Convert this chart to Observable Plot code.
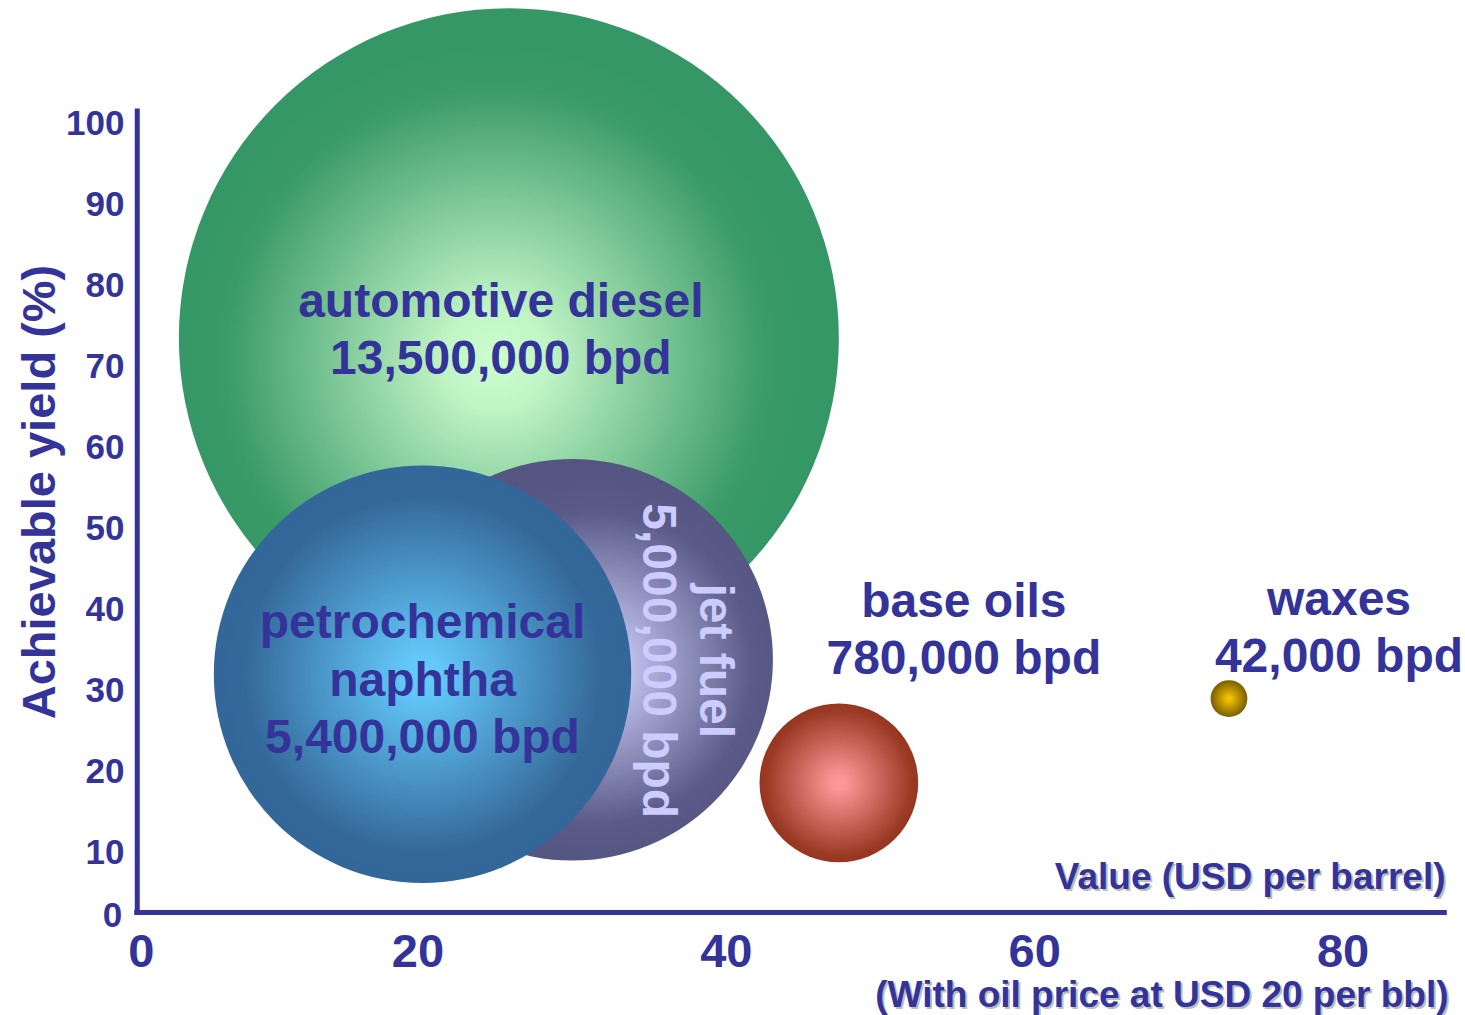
<!DOCTYPE html>
<html>
<head>
<meta charset="utf-8">
<script src="https://cdn.jsdelivr.net/npm/d3@7"></script>
<script src="https://cdn.jsdelivr.net/npm/@observablehq/plot@0.6"></script>
<style>
  html, body { margin: 0; padding: 0; background: #ffffff; }
</style>
</head>
<body>
<div id="chart"></div>
<script>
// Refinery products: market value vs. achievable yield; bubble area is proportional to volume.
// Listed in drawing order (back to front).
const products   = ["automotive diesel", "jet fuel", "petrochemical naphtha", "base oils", "waxes"];
const labelLines = ["automotive diesel", "jet fuel", "petrochemical\nnaphtha", "base oils", "waxes"];
const valueUSD   = [25.9, 30.0, 20.3, 47.3, 72.6];   // USD per barrel
const yieldPct   = [73.5, 33.8, 32.0, 18.6, 29.0];   // achievable yield, %
const volumeBpd  = [13500000, 5000000, 5400000, 780000, 42000];

const xTicks = [20, 40, 60, 80];
const yTicks = [10, 20, 30, 40, 50, 60, 70, 80, 90, 100];
const originTick = 0;

const yTitle = "Achievable yield (%)";
const xTitle = "Value (USD per barrel)";
const xNote  = "(With oil price at USD 20 per bbl)";

// ---- layout & style ----
const navy = "#333399";
const font = "'Liberation Sans', Arial, Helvetica, sans-serif";
const axisCorner = {x: 1.8, y: 2.6};     // where the drawn axis lines meet
const axisEnd = {x: 86.6, y: 101.5};     // far ends of the axis lines

const gradients = {
  "automotive diesel":     {cx: 0.48, cy: 0.53, stops: [[0, "#ccffcc"], [0.15, "#c2f5c6"], [0.82, "#3a9a68"], [1, "#359666"]]},
  "jet fuel":              {cx: 0.56, cy: 0.52, stops: [[0, "#d2d2ff"], [0.12, "#c6c6f2"], [0.78, "#5a5a88"], [1, "#555582"]]},
  "petrochemical naphtha": {cx: 0.5,  cy: 0.5,  stops: [[0, "#66ccff"], [0.1, "#62c6f8"], [0.85, "#35689a"], [1, "#336699"]]},
  "base oils":             {cx: 0.5,  cy: 0.5,  stops: [[0, "#ff9999"], [0.1, "#fb9494"], [0.92, "#9a3a24"], [1, "#983520"]]},
  "waxes":                 {cx: 0.5,  cy: 0.5,  stops: [[0, "#ffcc00"], [1, "#7a5e00"]]}
};

const labelStyle = {
  "automotive diesel":     {dx: -8,  dy: -11},
  "jet fuel":              {dx: 118, dy: 1, rotate: 90, fill: "#ccccff"},
  "petrochemical naphtha": {dx: 0,   dy: 3},
  "base oils":             {dx: 125, dy: -156},
  "waxes":                 {dx: 110, dy: -73}
};

const rows = products.map((p, i) => ({
  product: p,
  label: labelLines[i],
  value: valueUSD[i],
  yield: yieldPct[i],
  volume: volumeBpd[i]
}));

const gradId = p => "grad-" + p.replace(/\s+/g, "-");
const fmt = d3.format(",");

const bold = {fontWeight: "bold", fill: navy};

const chart = Plot.plot({
  width: 1465,
  height: 1015,
  marginLeft: 109,
  marginRight: 0,
  marginTop: 0,
  marginBottom: 82,
  x: {domain: [0, 87.94]},
  y: {domain: [0, 115.19]},
  r: {type: "sqrt", domain: [0, 13500000], range: [0, 330]},
  color: {type: "identity"},
  style: {fontFamily: font, background: "#ffffff", overflow: "visible"},
  marks: [
    // bubbles
    Plot.dot(rows, {
      x: "value", y: "yield", r: "volume",
      fill: d => `url(#${gradId(d.product)})`,
      stroke: "none",
      sort: null
    }),
    // bubble labels
    ...rows.map(d => Plot.text([d], {
      x: "value", y: "yield",
      text: r => `${r.label}\n${fmt(r.volume)} bpd`,
      fontSize: 48, lineHeight: 1.19, lineAnchor: "middle", textAnchor: "middle",
      ...bold,
      ...labelStyle[d.product]
    })),
    // axis lines
    Plot.ruleX([axisCorner.x], {y1: axisCorner.y, y2: axisEnd.y, stroke: navy, strokeWidth: 5, strokeLinecap: "square"}),
    Plot.ruleY([axisCorner.y], {x1: axisCorner.x, x2: axisEnd.x, stroke: navy, strokeWidth: 5, strokeLinecap: "square"}),
    // tick labels
    Plot.axisY({ticks: yTicks, tickSize: 0, tickPadding: 0, dx: 15, fontSize: 35, ...bold, label: null}),
    Plot.axisX({ticks: xTicks, tickSize: 0, tickPadding: 0, fontSize: 47, ...bold, label: null}),
    Plot.text([originTick], {x: () => axisCorner.x, y: () => axisCorner.y, text: d => String(d),
      textAnchor: "end", lineAnchor: "middle", dx: -15, dy: 3, fontSize: 35, ...bold}),
    Plot.text([originTick], {x: () => axisCorner.x, y: () => axisCorner.y, text: d => String(d),
      textAnchor: "middle", lineAnchor: "top", dx: 4, dy: 21, fontSize: 47, ...bold}),
    // axis titles
    Plot.text([yTitle], {frameAnchor: "left", text: d => d, rotate: -90, dx: -70, dy: 25,
      fontSize: 47, textAnchor: "middle", lineAnchor: "middle", ...bold}),
    Plot.text([xTitle], {frameAnchor: "bottom-right", text: d => d, textAnchor: "end", lineAnchor: "middle",
      dx: -18, dy: -54, fontSize: 37, fontWeight: "bold", fill: "#bdbdbd"}),
    Plot.text([xTitle], {frameAnchor: "bottom-right", text: d => d, textAnchor: "end", lineAnchor: "middle",
      dx: -20, dy: -56, fontSize: 37, ...bold}),
    Plot.text([xNote], {frameAnchor: "bottom-right", text: d => d, textAnchor: "end", lineAnchor: "middle",
      dx: -15, dy: 64, fontSize: 37, fontWeight: "bold", fill: "#bdbdbd"}),
    Plot.text([xNote], {frameAnchor: "bottom-right", text: d => d, textAnchor: "end", lineAnchor: "middle",
      dx: -17, dy: 62, fontSize: 37, ...bold})
  ]
});

// radial shading for each bubble
const defs = d3.select(chart).insert("defs", ":first-child");
for (const [p, g] of Object.entries(gradients)) {
  const rg = defs.append("radialGradient")
    .attr("id", gradId(p))
    .attr("cx", g.cx).attr("cy", g.cy).attr("r", 0.5)
    .attr("fx", g.cx).attr("fy", g.cy);
  for (const [o, c] of g.stops) rg.append("stop").attr("offset", o).attr("stop-color", c);
}

document.getElementById("chart").appendChild(chart);
</script>
</body>
</html>
